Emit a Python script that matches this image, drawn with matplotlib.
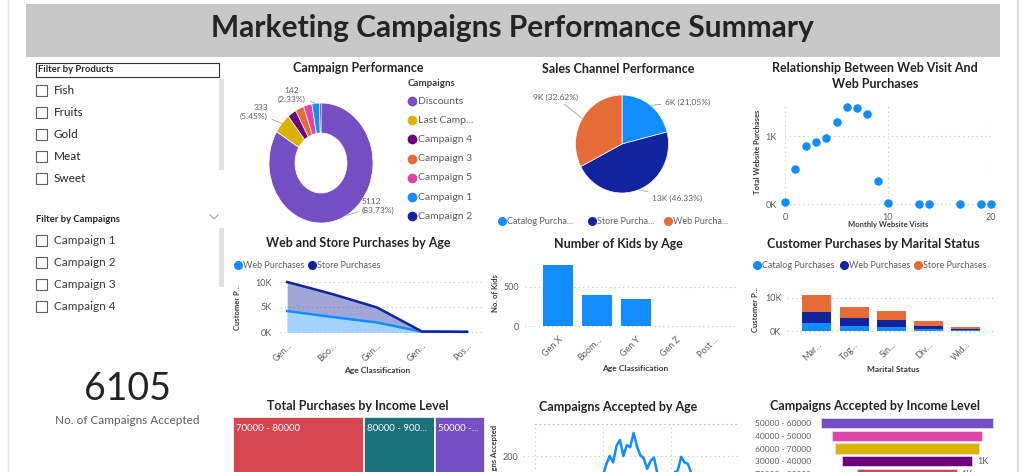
"""Rebuild the marketing campaigns dashboard as a single static figure."""
import math

import matplotlib

matplotlib.use("Agg")
import matplotlib.pyplot as plt
from matplotlib.lines import Line2D
from matplotlib.patches import Rectangle
from matplotlib.transforms import Affine2D

# Slicers and card.
products = ["Fish", "Fruits", "Gold", "Meat", "Sweet"]
campaign_filters = ["Campaign 1", "Campaign 2", "Campaign 3", "Campaign 4", "Campaign 5"]
campaigns_accepted = 6105

# Campaign Performance (donut).
campaign_names = ["Discounts", "Last Campaign", "Campaign 4", "Campaign 3",
                  "Campaign 5", "Campaign 1", "Campaign 2"]
campaign_accepts = [5112, 333, 164, 163, 161, 142, 30]

# Sales Channel Performance (pie).
channel_names = ["Catalog Purchases", "Store Purchases", "Web Purchases"]
channel_totals = [5904, 12996, 9150]

# Web visits vs web purchases (scatter).
web_visits = [0, 1, 2, 3, 4, 5, 6, 7, 8, 9, 10, 13, 14, 17, 19, 20]
web_purchases = [30, 515, 850, 910, 970, 1200, 1425, 1410, 1325, 340, 10, 4, 4, 3, 3, 3]

# Age based visuals.
age_groups = ["Gen X", "Boomers", "Gen Y", "Gen Z", "Post War"]
web_by_age = [4200, 3000, 1900, 60, 20]
store_by_age = [10000, 7600, 4900, 90, 40]
kids_by_age = [780, 395, 345, 0, 0]

# Customer purchases by marital status (stacked).
marital_status = ["Married", "Together", "Single", "Divorced", "Widow"]
catalog_by_marital = [2300, 1500, 1350, 600, 280]
web_by_marital = [3500, 2400, 1900, 900, 370]
store_by_marital = [5100, 3400, 2700, 1450, 700]

# Total purchases by income level (treemap, visible top row).
tree_levels = ["70000 - 80000", "80000 - 900...", "50000 -..."]
tree_purchases = [3870, 2100, 1470]

# Campaigns accepted by age (line).
ages = list(range(28, 85))
accepted_by_age = [20, 25, 30, 35, 40, 45, 50, 60, 55, 65, 70, 75, 80,
                   150, 200, 160, 265, 300, 200, 268, 255, 344, 260, 205,
                   185, 120, 170, 190, 90, 80, 70, 90, 85, 95, 110, 195,
                   160, 150, 90, 80, 70, 75, 60, 50, 45, 40, 30, 25, 20,
                   15, 10, 8, 5, 5, 3, 2, 2]

# Campaigns accepted by income level (funnel).
funnel_levels = ["50000 - 60000", "40000 - 50000", "60000 - 70000",
                 "30000 - 40000", "70000 - 80000"]
funnel_accepts = [1380, 1210, 1160, 1050, 800]

BLUE, NAVY, ORANGE = "#118DFF", "#12239E", "#E66C37"
PURPLE, YELLOW, PLUM = "#744EC2", "#D9B300", "#6B007B"
PINK, RED, TEAL = "#E044A7", "#D64550", "#197278"
DARK, GRAY, GRID = "#252423", "#605E5C", "#C8C6C4"
AXIS_TITLE = "#3B3A39"

W, H = 1024, 472
plt.rcParams["font.family"] = ["Lato", "DejaVu Sans"]
fig = plt.figure(figsize=(W / 100, H / 100), dpi=100)
fig.patch.set_facecolor("white")
# pixel coordinates measured from the top-left corner
PX = Affine2D().scale(1 / W, -1 / H).translate(0, 1) + fig.transFigure


def axes_px(x0, y0, x1, y1):
    return fig.add_axes([x0 / W, 1 - y1 / H, (x1 - x0) / W, (y1 - y0) / H])


def text_px(x, y, s, **kw):
    kw.setdefault("color", DARK)
    kw.setdefault("va", "center")
    return fig.text(x, y, s, transform=PX, **kw)


def rect_px(x, y, w, h, **kw):
    return fig.add_artist(Rectangle((x, y), w, h, transform=PX, **kw))


def dot_px(x, y, color, size=5.5):
    fig.add_artist(Line2D([x], [y], marker="o", ms=size, color=color,
                          mec=color, transform=PX))


def title(x, y, s):
    text_px(x, y, s, ha="center", fontsize=9, fontweight="bold")


def axis_title(x, y, s, rotation=0, size=5.5):
    text_px(x, y, s, ha="center", rotation=rotation, fontsize=size,
            fontweight="bold", color=AXIS_TITLE)


def legend_row(y, items):
    for x, color, label in items:
        dot_px(x, y, color)
        text_px(x + 5, y, label, fontsize=6.5, color=GRAY)


def clean(ax, ygrid=True):
    for spine in ax.spines.values():
        spine.set_visible(False)
    ax.tick_params(length=0, labelsize=6.5, labelcolor=GRAY)
    ax.set_facecolor("none")
    if ygrid:
        ax.yaxis.grid(True, linestyle=(0, (1, 3)), color=GRID, lw=0.8)
    ax.set_axisbelow(True)


def short(label, n=3):
    return label[:n] + "..."


def kfmt(vals):
    return [f"{v / 1000:.0f}K" for v in vals]


def mid_point(wedge):
    ang = math.radians((wedge.theta1 + wedge.theta2) / 2)
    return math.cos(ang), math.sin(ang)


# Page frame and banner.
fig.add_artist(Line2D([1018, 1018], [0, H], color="#D6D6D6", lw=1.2, transform=PX))
fig.add_artist(Line2D([8, 8], [0, H], color="#E6E6E6", lw=1.0, transform=PX))
rect_px(26, 4, 974, 53, color="#C8C8C8", lw=0)
text_px(512, 28, "Marketing Campaigns Performance Summary", ha="center",
        fontsize=21.5, fontweight="bold")

# Slicers.
rect_px(36, 63, 183, 14, fill=False, ec="#333333", lw=0.8)
text_px(38, 70, "Filter by Products", fontsize=6.8, fontweight="bold")
for i, name in enumerate(products):
    y = 90 + 22 * i
    rect_px(36, y - 5.5, 11, 11, fill=False, ec=GRAY, lw=0.8)
    text_px(54, y, name, fontsize=8.5)
rect_px(219, 79, 5, 91, color="#E1E1E1", lw=0)

text_px(36, 219, "Filter by Campaigns", fontsize=6.8, fontweight="bold")
fig.add_artist(Line2D([210, 214, 218], [215, 219, 215], color="#A19F9D",
                      lw=0.8, transform=PX))
for i, name in enumerate(campaign_filters):
    y = 240 + 22 * i
    rect_px(36, y - 5.5, 11, 11, fill=False, ec=GRAY, lw=0.8)
    text_px(54, y, name, fontsize=8.5, color=AXIS_TITLE)
# the last slicer item is cut by the list viewport
rect_px(30, 320.5, 195, 30, color="white", lw=0, zorder=10)
rect_px(219, 228, 5, 59, color="#E1E1E1", lw=0)

# Card.
text_px(127, 389, f"{campaigns_accepted}", ha="center", fontsize=27)
text_px(127, 420, "No. of Campaigns Accepted", ha="center", fontsize=8.5,
        color=GRAY)

# Campaign Performance donut.
title(358, 68, "Campaign Performance")
campaign_colors = [PURPLE, YELLOW, PLUM, ORANGE, PINK, BLUE, NAVY]
ax = axes_px(269, 103, 373, 223)
wedges, _ = ax.pie(campaign_accepts, colors=campaign_colors, startangle=90,
                   counterclock=False,
                   wedgeprops=dict(width=0.5, edgecolor="white", linewidth=0.5))
ax.set_xlim(-1, 1)
ax.set_ylim(-1, 1)
ax.set_aspect("auto")
total = sum(campaign_accepts)
donut_labels = {0: (362, 206, "left"), 1: (268, 112, "right"), 5: (292, 95, "center")}
for idx, (tx, ty, ha) in donut_labels.items():
    v = campaign_accepts[idx]
    ax.annotate(f"{v}\n({v / total * 100:.2f}%)", xy=mid_point(wedges[idx]),
                xytext=(tx, ty), textcoords=PX, ha=ha, va="center",
                multialignment=ha, fontsize=6, color=GRAY, linespacing=1.3,
                arrowprops=dict(arrowstyle="-", color="#A19F9D", lw=0.6,
                                shrinkA=1, shrinkB=0))
text_px(408, 84, "Campaigns", fontsize=7, fontweight="bold", color=AXIS_TITLE)
for i, (name, color) in enumerate(zip(campaign_names, campaign_colors)):
    label = "Last Camp..." if len(name) > 11 else name
    y = 101 + 19.2 * i
    dot_px(412, y, color, 6)
    text_px(418, y, label, fontsize=7.5, color=GRAY)

# Sales Channel Performance pie.
title(618, 69, "Sales Channel Performance")
ax = axes_px(575.5, 95, 668.5, 193)
wedges, _ = ax.pie(channel_totals, colors=[BLUE, NAVY, ORANGE], startangle=90,
                   counterclock=False,
                   wedgeprops=dict(edgecolor="white", linewidth=0.5))
ax.set_xlim(-1, 1)
ax.set_ylim(-1, 1)
ax.set_aspect("auto")
ch_total = sum(channel_totals)
pie_labels = [(665, 102, "left"), (652, 198, "left"), (578, 97, "right")]
for w, v, (tx, ty, ha) in zip(wedges, channel_totals, pie_labels):
    ax.annotate(f"{v / 1000:.0f}K ({v / ch_total * 100:.2f}%)",
                xy=mid_point(w), xytext=(tx, ty), textcoords=PX, ha=ha,
                va="center", fontsize=6, color=GRAY,
                arrowprops=dict(arrowstyle="-", color="#A19F9D", lw=0.6,
                                shrinkA=1, shrinkB=0))
legend_row(221, [(502, BLUE, "Catalog Purcha..."), (592, NAVY, "Store Purcha..."),
                 (668, ORANGE, "Web Purcha...")])

# Web visits vs web purchases scatter.
text_px(875, 68, "Relationship Between Web Visit And", ha="center",
        fontsize=9, fontweight="bold")
text_px(875, 84, "Web Purchases", ha="center", fontsize=9, fontweight="bold")
ax = axes_px(785, 105, 991, 210)
ax.scatter(web_visits, web_purchases, s=26, color=BLUE, clip_on=False, zorder=3)
ax.set_xlim(0, 20)
ax.set_ylim(-88, 1456)
ax.set_xticks([0, 10, 20])
ax.set_yticks([0, 1000])
ax.set_yticklabels(kfmt([0, 1000]))
clean(ax)
ax.xaxis.grid(True, linestyle=(0, (1, 3)), color=GRID, lw=0.8)
ax.tick_params(axis="y", pad=6)
ax.tick_params(axis="x", pad=2)
axis_title(757, 152, "Total Website Purchases", rotation=90)
axis_title(888, 225, "Monthly Website Visits")

# Web and Store Purchases by Age area chart.
title(358, 243, "Web and Store Purchases by Age")
legend_row(265, [(238, BLUE, "Web Purchases"), (312, NAVY, "Store Purchases")])
ax = axes_px(280, 280, 485, 334)
xs = list(range(len(age_groups)))
ax.fill_between(xs, store_by_age, color=NAVY, alpha=0.4, lw=0)
ax.fill_between(xs, web_by_age, color="#A3D2FF", lw=0)
ax.plot(xs, web_by_age, color=BLUE, lw=1.8)
ax.plot(xs, store_by_age, color=NAVY, lw=1.8)
ax.set_xlim(-0.16, 4.4)
ax.set_ylim(-400, 10400)
ax.set_yticks([0, 5000, 10000])
ax.set_yticklabels(kfmt([0, 5000, 10000]))
ax.set_xticks(xs)
ax.set_xticklabels([short(a) for a in age_groups], rotation=45, ha="right",
                   va="top", rotation_mode="anchor")
clean(ax)
ax.tick_params(axis="y", pad=6)
ax.tick_params(axis="x", pad=5)
axis_title(238, 307, "Customer P...", rotation=90)
axis_title(377, 370, "Age Classification", size=6)

# Number of Kids by Age bars.
title(618, 244, "Number of Kids by Age")
ax = axes_px(525, 262, 738, 328)
ax.bar(xs, kids_by_age, width=0.77, color=BLUE)
ax.set_xlim(-0.85, 4.6)
ax.set_ylim(-25, 820)
ax.set_yticks([0, 500])
ax.set_xticks(xs)
kid_labels = [a if len(a) <= 5 else a[:4] + "..." for a in age_groups]
kid_labels[-1] = age_groups[-1][:4] + " ..."
ax.set_xticklabels(kid_labels, rotation=45, ha="right", va="top",
                   rotation_mode="anchor")
clean(ax)
ax.tick_params(axis="y", pad=4)
ax.tick_params(axis="x", pad=5)
axis_title(495, 293, "No. of Kids", rotation=90)
axis_title(635, 369, "Age Classification", size=6)

# Customer Purchases by Marital Status stacked bars.
title(873, 244, "Customer Purchases by Marital Status")
legend_row(265, [(757, BLUE, "Catalog Purchases"), (844, NAVY, "Web Purchases"),
                 (918, ORANGE, "Store Purchases")])
ax = axes_px(787, 290, 995, 333)
ms = list(range(len(marital_status)))
ax.bar(ms, catalog_by_marital, width=0.78, color=BLUE)
ax.bar(ms, web_by_marital, width=0.78, bottom=catalog_by_marital, color=NAVY)
ax.bar(ms, store_by_marital, width=0.78,
       bottom=[c + w for c, w in zip(catalog_by_marital, web_by_marital)],
       color=ORANGE)
ax.set_xlim(-0.8, 4.78)
ax.set_ylim(-600, 12400)
ax.set_yticks([0, 10000])
ax.set_yticklabels(kfmt([0, 10000]))
ax.set_xticks(ms)
ax.set_xticklabels([short(m) for m in marital_status], rotation=45, ha="right",
                   va="top", rotation_mode="anchor")
clean(ax)
ax.tick_params(axis="y", pad=4)
ax.tick_params(axis="x", pad=5)
axis_title(756, 310, "Customer P...", rotation=90)
axis_title(893, 369, "Marital Status", size=6)

# Total Purchases by Income Level treemap (top row only is in view).
title(358, 406, "Total Purchases by Income Level")
ax = axes_px(233, 417, 485, 530)
lefts = [sum(tree_purchases[:i]) for i in range(len(tree_purchases))]
ax.bar(lefts, [1] * len(tree_purchases), width=tree_purchases, align="edge",
       color=[RED, TEAL, PURPLE], edgecolor="white", linewidth=1.2)
for left, label in zip(lefts, tree_levels):
    ax.text(left + 90, 0.9, label, color="white", fontsize=7, va="center")
ax.set_xlim(0, sum(tree_purchases))
ax.set_ylim(0, 1)
ax.axis("off")

# Campaigns Accepted by Age line.
title(618, 407, "Campaigns Accepted by Age")
ax = axes_px(523, 424, 738, 500)
ax.plot(ages, accepted_by_age, color=BLUE, lw=1.8)
ax.set_xlim(16.5, 79.7)
ax.set_ylim(-75, 400)
ax.set_yticks([200])
ax.set_xticks([20, 40, 60])
ax.set_xticklabels([])
clean(ax)
ax.xaxis.grid(True, linestyle=(0, (1, 3)), color=GRID, lw=0.8)
ax.spines["top"].set_visible(True)
ax.spines["top"].set_linestyle((0, (1, 3)))
ax.spines["top"].set_color(GRID)
ax.spines["top"].set_bounds(20, 79.7)
ax.tick_params(axis="y", pad=3)
axis_title(495, 460, "Campaigns Accepted", rotation=90)

# Campaigns Accepted by Income Level funnel.
title(875, 406, "Campaigns Accepted by Income Level")
ax = axes_px(815, 416, 1014, 480)
rows = list(range(len(funnel_levels)))
ax.barh(rows, funnel_accepts, left=[-v / 2 for v in funnel_accepts], height=0.82,
        color=[PURPLE, PINK, YELLOW, PLUM, RED], edgecolor="#E8E0F5", linewidth=0.5)
ax.set_xlim(-742, 863)
ax.set_ylim(4.47, -0.55)
ax.set_yticks(rows)
ax.set_yticklabels(funnel_levels)
ax.set_xticks([])
clean(ax, ygrid=False)
ax.tick_params(axis="y", pad=3, labelsize=6)
for r, v in zip(rows[3:], funnel_accepts[3:]):
    ax.text(v / 2 + 40, r, f"{v / 1000:.0f}K", fontsize=6.5, color=GRAY,
            va="center")

fig.savefig("out.png", dpi=100)
